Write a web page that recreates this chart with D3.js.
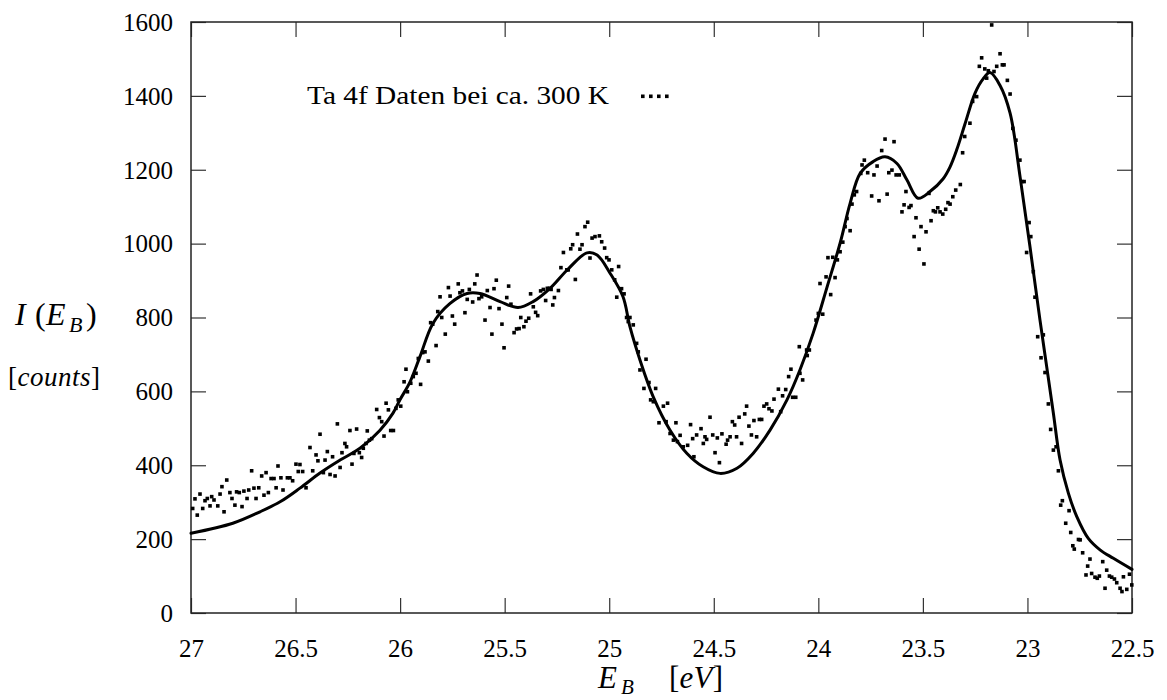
<!DOCTYPE html>
<html><head><meta charset="utf-8">
<script src="https://cdn.jsdelivr.net/npm/d3@7/dist/d3.min.js"></script>
<style>
html,body{margin:0;padding:0;background:#fff;}
svg{display:block;}
svg text{font-family:"Liberation Serif","Times New Roman",serif;fill:#000;}
</style></head>
<body>
<svg id="chart" width="1167" height="700"></svg>
<script>
// ---- data ----
const xTicks = [27, 26.5, 26, 25.5, 25, 24.5, 24, 23.5, 23, 22.5];
const xTickLabels = ["27", "26.5", "26", "25.5", "25", "24.5", "24", "23.5", "23", "22.5"];
const yTicks = [0, 200, 400, 600, 800, 1000, 1200, 1400, 1600];
const yTickLabels = ["0", "200", "400", "600", "800", "1000", "1200", "1400", "1600"];
const legendLabel = "Ta 4f Daten bei ca. 300 K";

// measured points: binding energy (eV)
const dataE = [
26.992,26.981,26.970,26.957,26.944,26.933,26.922,26.909,26.901,26.890,26.872,26.861,26.852,26.842,26.829,26.814,26.804,26.790,26.782,26.769,
26.756,26.747,26.732,26.724,26.710,26.699,26.689,26.676,26.662,26.651,26.641,26.630,26.617,26.603,26.593,26.584,26.570,26.560,26.539,26.527,
26.514,26.498,26.487,26.479,26.466,26.450,26.431,26.418,26.402,26.393,26.383,26.367,26.359,26.348,26.335,26.323,26.311,26.300,26.287,26.278,
26.264,26.256,26.240,26.230,26.221,26.208,26.195,26.184,26.176,26.163,26.157,26.147,26.136,26.112,26.099,26.088,26.077,26.067,26.056,26.045,
26.032,26.020,26.009,25.997,25.981,
25.972,25.965,25.949,25.937,25.924,25.913,25.902,25.892,25.881,25.865,25.854,25.844,25.828,25.820,25.809,25.801,25.784,25.769,25.761,25.750,
25.739,25.722,25.714,25.702,25.690,25.679,25.669,25.653,25.643,25.632,25.623,25.610,25.594,25.583,25.570,25.561,25.551,25.540,25.527,25.513,
25.503,25.490,25.481,25.470,25.455,25.443,25.431,25.423,25.408,25.398,25.385,25.376,25.363,25.352,25.342,25.328,25.315,25.304,25.296,25.286,
25.278,25.270,25.262,25.243,25.231,25.219,25.203,25.196,25.184,25.175,25.162,25.152,25.140,25.130,25.116,25.103,25.092,25.082,25.068,25.047,
25.036,25.022,25.012,25.001,24.988,24.974,24.964,24.955,24.941,24.929,24.917,24.909,24.901,24.885,24.869,24.861,24.853,
24.834,24.824,24.810,24.802,24.789,24.778,24.762,24.741,24.728,24.721,24.709,24.693,24.681,24.674,24.661,24.646,24.625,24.611,24.601,24.595,
24.582,24.561,24.550,24.542,24.534,24.518,24.505,24.494,24.483,24.473,24.461,24.441,24.434,24.422,24.411,24.400,24.391,24.379,24.367,24.352,
24.343,24.332,24.320,24.308,24.295,24.282,24.271,24.260,24.247,24.236,24.222,24.212,24.191,24.180,24.171,24.156,24.142,24.131,24.123,24.108,
24.091,24.088,24.075,24.056,24.053,24.043,24.011,24.000,
23.992,23.979,23.963,23.954,23.941,23.931,23.920,23.909,23.896,23.883,23.872,23.863,23.848,23.839,23.828,23.817,23.797,23.791,23.780,23.764,
23.745,23.734,23.719,23.710,23.697,23.681,23.671,23.663,23.648,23.638,23.628,23.613,23.600,23.590,23.581,23.566,23.557,23.542,23.533,23.518,
23.509,23.495,23.485,23.471,23.461,23.450,23.440,23.429,23.418,23.405,23.391,23.380,23.370,23.357,23.343,23.321,23.310,23.300,23.275,
23.262,23.243,23.230,23.219,23.204,23.195,23.187,23.171,23.160,23.147,23.131,23.120,23.112,23.096,23.083,23.070,23.055,23.036,
23.027,23.016,23.004,22.992,22.984,22.972,22.964,22.951,22.935,22.924,22.916,22.900,22.889,22.876,22.863,22.852,22.841,22.833,22.817,22.801,
22.793,22.783,22.776,22.756,22.748,22.736,22.720,22.712,22.701,22.693,22.677,22.666,22.656,22.640,22.629,22.621,22.608,22.597,22.584,22.573,
22.557,22.548,22.541,22.525,22.512,22.501
];
// measured points: intensity (counts)
const dataCounts = [
283,309,265,322,283,304,310,290,315,306,290,322,342,274,360,326,310,292,328,326,
288,330,310,333,385,338,310,339,371,319,380,326,364,364,339,398,366,333,366,366,
358,403,383,402,383,339,448,385,428,412,484,380,414,437,375,423,371,512,394,434,
459,450,494,403,432,498,434,421,446,459,493,468,472,551,529,518,479,568,550,494,
494,554,577,560,626,
660,599,622,640,649,689,619,705,707,682,786,782,724,816,856,800,755,881,858,804,
782,891,867,872,813,849,876,842,891,915,851,856,793,873,827,755,878,901,824,782,
718,854,885,836,759,769,770,800,775,790,798,864,829,814,805,872,876,846,879,879,
876,834,854,873,935,976,929,929,986,997,903,1026,985,997,1046,1058,961,1015,1019,1021,
1005,988,962,956,929,902,855,938,878,864,800,789,800,780,730,707,658,
608,687,624,577,572,608,515,560,518,568,486,468,515,464,481,450,454,510,472,423,
482,499,459,477,470,530,482,434,474,407,485,457,468,477,518,509,477,530,459,539,
560,506,482,521,477,524,524,560,566,553,547,579,606,545,588,605,640,660,584,584,
721,649,631,712,697,712,793,811,
892,809,910,962,862,963,908,956,978,1004,1046,1068,1035,1107,1132,1141,1190,1213,1226,1192,
1129,1186,1210,1116,1252,1283,1134,1192,1199,1276,1186,1186,1086,1105,1141,1098,1103,1019,1070,985,
1046,945,1032,1136,1062,1089,1086,1097,1086,1080,1093,1111,1107,1127,1145,1160,1246,1290,1326,
1385,1398,1480,1503,1473,1448,1468,1592,1466,1480,1514,1484,1484,1442,1405,1312,1280,1226,
1168,1168,976,1057,1019,924,855,748,691,753,651,566,497,441,450,385,292,304,243,277,
218,182,173,199,198,163,103,127,146,107,97,94,100,139,67,116,100,97,92,82,
67,58,98,64,105,76
];

// fitted curve (solid line): support points
const curveE = [27.000,26.800,26.670,26.574,26.479,26.383,26.287,26.192,26.096,26.034,26.000,25.953,25.905,25.843,25.761,25.680,25.618,25.522,25.436,25.364,
25.283,25.202,25.106,25.058,24.996,24.934,24.901,24.853,24.790,24.709,24.628,24.551,24.470,24.389,24.312,24.231,24.150,24.088,24.025,23.958,
23.896,23.848,23.800,23.738,23.681,23.624,23.576,23.523,23.466,23.404,23.370,23.337,23.298,23.251,23.212,23.179,23.131,23.083,23.035,22.988,
22.940,22.908,22.876,22.844,22.804,22.764,22.709,22.653,22.589,22.500];
const curveCounts = [216,243,274,301,338,379,414,446,495,541,578,625,694,784,838,865,865,843,827,843,
879,928,975,969,920,856,775,685,586,495,432,396,378,392,432,495,577,658,757,883,
1001,1109,1190,1222,1235,1217,1172,1123,1141,1175,1208,1256,1325,1407,1446,1463,1428,1353,1180,992,
793,667,541,414,324,261,202,171,148,118];

// ---- drawing ----
const L = 191, R = 1132, T = 22, B = 613;
const FONT = '"Liberation Serif", "Times New Roman", serif';
const svg = d3.select("#chart").attr("font-family", FONT);

const x = d3.scaleLinear().domain([27, 22.5]).range([L, R]);
const y = d3.scaleLinear().domain([0, 1600]).range([B, T]);

const tickLen = 15;
const FS = 25;

// axes (inward ticks on all four sides)
const gB = svg.append("g").attr("transform", `translate(0,${B})`)
  .call(d3.axisBottom(x).tickValues(xTicks).tickSize(-tickLen).tickFormat((d,i)=>xTickLabels[i]));
gB.selectAll("text").attr("y", 44).attr("dy", 0);

const gL = svg.append("g").attr("transform", `translate(${L},0)`)
  .call(d3.axisLeft(y).tickValues(yTicks).tickSize(-tickLen).tickFormat((d,i)=>yTickLabels[i]));
gL.selectAll("text").attr("x", -18).attr("dy", "0.33em");

const gT = svg.append("g").attr("transform", `translate(0,${T})`)
  .call(d3.axisTop(x).tickValues(xTicks).tickSize(-tickLen).tickFormat(""));
const gR = svg.append("g").attr("transform", `translate(${R},0)`)
  .call(d3.axisRight(y).tickValues(yTicks).tickSize(-tickLen).tickFormat(""));

[gB, gL, gT, gR].forEach(g => {
  g.attr("font-family", FONT).attr("font-size", FS);
  g.select(".domain").remove();
  g.selectAll(".tick line").attr("stroke", "#333").attr("stroke-width", 1.2);
  g.selectAll("text").attr("fill", "#000");
});

// frame
svg.append("rect").attr("x", L).attr("y", T).attr("width", R - L).attr("height", B - T)
  .attr("fill", "none").attr("stroke", "#222").attr("stroke-width", 1.5);

// data points
const pts = dataE.map((e, i) => ({e: e, c: dataCounts[i]}));
const ds = 3.6;
svg.append("g").selectAll("rect").data(pts).join("rect")
  .attr("x", d => x(d.e) - ds/2).attr("y", d => y(d.c) - ds/2)
  .attr("width", ds).attr("height", ds).attr("fill", "#000");

// fitted curve
const cpts = curveE.map((e, i) => ({e: e, c: curveCounts[i]}));
const line = d3.line().x(d => x(d.e)).y(d => y(d.c)).curve(d3.curveCatmullRom.alpha(0.5));
svg.append("path").datum(cpts).attr("d", line)
  .attr("fill", "none").attr("stroke", "#000").attr("stroke-width", 3)
  .attr("stroke-linejoin", "round").attr("stroke-linecap", "round");

// legend
svg.append("text").attr("x", 307).attr("y", 104).attr("font-size", FS)
  .attr("textLength", 302).attr("lengthAdjust", "spacingAndGlyphs").text(legendLabel);
svg.append("g").selectAll("rect").data([0,1,2,3]).join("rect")
  .attr("x", d => 641 + d * 8).attr("y", 94.5).attr("width", ds).attr("height", ds).attr("fill", "#000");

// y axis label: I(E_B)
const yl = svg.append("g").attr("font-size", 32);
yl.append("text").attr("x", 15).attr("y", 325).attr("font-style", "italic").text("I");
yl.append("text").attr("x", 35).attr("y", 325).text("(");
yl.append("text").attr("x", 46).attr("y", 325).attr("font-style", "italic").text("E");
yl.append("text").attr("x", 69).attr("y", 332).attr("font-style", "italic").attr("font-size", 22).text("B");
yl.append("text").attr("x", 86).attr("y", 325).text(")");

// [counts]
const cl = svg.append("text").attr("x", 8).attr("y", 386).attr("font-size", 27)
  .attr("textLength", 92).attr("lengthAdjust", "spacing");
cl.append("tspan").text("[");
cl.append("tspan").attr("font-style", "italic").text("counts");
cl.append("tspan").text("]");

// x axis label: E_B [eV]
const xl = svg.append("g").attr("font-size", 31);
xl.append("text").attr("x", 598).attr("y", 688).attr("font-style", "italic").text("E");
xl.append("text").attr("x", 621).attr("y", 694).attr("font-style", "italic").attr("font-size", 21).text("B");
const ev = xl.append("text").attr("x", 669).attr("y", 688).attr("textLength", 54).attr("lengthAdjust", "spacing");
ev.append("tspan").text("[");
ev.append("tspan").attr("font-style", "italic").text("eV");
ev.append("tspan").text("]");
</script>
</body></html>
